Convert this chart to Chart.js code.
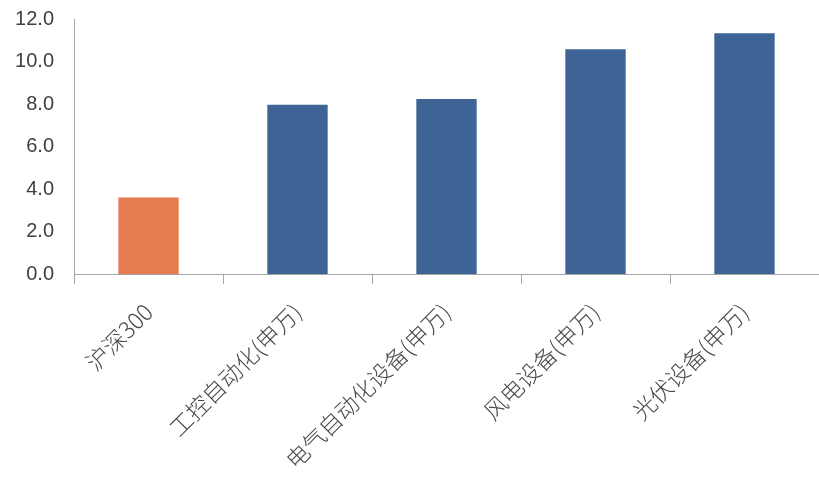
<!DOCTYPE html>
<html>
<head>
<meta charset="utf-8">
<script src="https://cdn.jsdelivr.net/npm/chart.js@4/dist/chart.umd.min.js"></script>
<style>
html,body{margin:0;padding:0;background:#fff;}
#wrap{width:819px;height:482px;position:relative;}
</style>
</head>
<body>
<div id="wrap"><canvas id="c" width="819" height="482"></canvas></div>
<script>
const categories = ['沪深300', '工控自动化(申万)', '电气自动化设备(申万)', '风电设备(申万)', '光伏设备(申万)'];
const values = [3.6, 7.97, 8.23, 10.58, 11.33];
const yTicks = [0, 2, 4, 6, 8, 10, 12];
const barColors = ['#E57D51', '#3D6495', '#3D6495', '#3D6495', '#3D6495'];

new Chart(document.getElementById('c'), {
  type: 'bar',
  data: {
    labels: categories,
    datasets: [{
      data: values,
      backgroundColor: barColors,
      borderWidth: 0,
      categoryPercentage: 1,
      barPercentage: 0.405
    }]
  },
  options: {
    responsive: false,
    animation: false,
    layout: { padding: { top: 19, left: 0, right: 0, bottom: 0 } },
    plugins: { legend: { display: false }, tooltip: { enabled: false } },
    scales: {
      x: {
        offset: true,
        grid: { display: true, offset: true, drawOnChartArea: false, drawTicks: true, tickLength: 10, color: '#A6A6A6', lineWidth: 1 },
        border: { display: true, color: '#A6A6A6', width: 1 },
        ticks: {
          minRotation: 45, maxRotation: 45, autoSkip: false, padding: 14,
          color: '#484848',
          font: { family: '"Noto Sans CJK SC", sans-serif', size: 23, weight: '300' }
        },
        afterFit: s => { s.height = 208; s.paddingLeft = 0; s.paddingRight = 0; }
      },
      y: {
        min: 0, max: 12,
        afterBuildTicks: s => { s.ticks = yTicks.map(v => ({ value: v })); },
        grid: { display: false, drawTicks: false },
        border: { display: true, color: '#A6A6A6', width: 1 },
        ticks: {
          padding: 20,
          color: '#404040',
          font: { family: '"Liberation Sans", sans-serif', size: 20 },
          callback: v => Number(v).toFixed(1)
        },
        afterFit: s => { s.width = 74; s.paddingTop = 0; s.paddingBottom = 0; }
      }
    }
  }
});
</script>
</body>
</html>
